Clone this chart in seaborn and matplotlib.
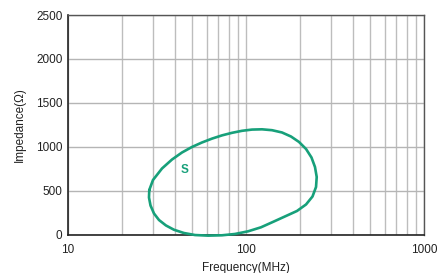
import matplotlib
matplotlib.use("Agg")
import matplotlib.pyplot as plt
import seaborn as sns
import pandas as pd
from matplotlib.ticker import FixedLocator, NullFormatter, FixedFormatter

# Curve points (frequency in MHz, impedance in ohm), traced around the loop
freq_mhz = [28.62, 30.03, 33.74, 38.40, 43.69, 49.73, 56.58, 64.42, 73.33, 83.44, 94.95,
            108.1, 123.0, 140.0, 159.3, 179.0, 198.5, 217.4, 233.3, 244.1, 249.6, 247.4,
            236.4, 217.4, 193.4, 167.8, 142.7, 121.4, 102.6, 86.7, 73.3, 61.2, 51.7,
            44.8, 39.4, 35.5, 32.45, 30.42, 29.08, 28.51, 28.62]
impedance = [507, 621, 752, 854, 934, 997, 1048, 1092, 1129, 1158, 1181,
             1195, 1198, 1188, 1162, 1116, 1054, 974, 877, 769, 655, 541,
             433, 342, 268, 211, 146, 82, 36, 6, -9, -13, -6,
             17, 54, 103, 165, 239, 330, 421, 507]

label_text = "S"
label_freq = 45.4
label_imp = 739

x_ticks = [10, 100, 1000]
y_ticks = [0, 500, 1000, 1500, 2000, 2500]
minor_x = [20, 30, 40, 50, 60, 70, 80, 90, 200, 300, 400, 500, 600, 700, 800, 900]

x_label = "Frequency(MHz)"
y_label = "Impedance(Ω)"

sns.set_style("white")
plt.rcParams['font.family'] = ['Liberation Sans', 'DejaVu Sans']

color = "#17a07a"

fig = plt.figure(figsize=(4.41, 2.73), dpi=100)
ax = fig.add_axes([68/441, 1-234.5/273, (424-68)/441, (234.5-15)/273])

df = pd.DataFrame({"f": freq_mhz, "z": impedance})
sns.lineplot(data=df, x="f", y="z", sort=False, estimator=None, ax=ax,
             color=color, linewidth=1.9, clip_on=False, zorder=5)
for ln in ax.get_lines():
    ln.set_solid_joinstyle("round")
    ln.set_solid_capstyle("round")

ax.set_xscale("log")
ax.set_xlim(10, 1000)
ax.set_ylim(0, 2500)
ax.xaxis.set_major_locator(FixedLocator(x_ticks))
ax.xaxis.set_major_formatter(FixedFormatter([str(t) for t in x_ticks]))
ax.xaxis.set_minor_locator(FixedLocator(minor_x))
ax.xaxis.set_minor_formatter(NullFormatter())
ax.set_yticks(y_ticks)
ax.set_yticklabels([str(t) for t in y_ticks])

ax.grid(True, which="both", axis="x", color="#bdbdbd", linewidth=1.0)
ax.grid(True, which="major", axis="y", color="#b5b5b5", linewidth=1.0)
ax.set_axisbelow(True)

ax.tick_params(axis="y", which="both", length=0, labelsize=8.5, colors="#222222", pad=4)
ax.tick_params(axis="x", which="both", length=0, labelsize=8.5, colors="#222222", pad=7)
for side in ["left", "bottom"]:
    ax.spines[side].set_color("#222222")
    ax.spines[side].set_linewidth(1.2)
for side in ["top", "right"]:
    ax.spines[side].set_color("#555555")
    ax.spines[side].set_linewidth(1.0)

ax.set_xlabel(x_label, fontsize=8.5, color="#222222", labelpad=4)
ax.set_ylabel(y_label, fontsize=8.5, color="#222222", labelpad=7)

ax.text(label_freq, label_imp, label_text, color=color, fontsize=8.5, fontweight="bold",
        ha="center", va="center")

fig.savefig("out.png", dpi=100)
